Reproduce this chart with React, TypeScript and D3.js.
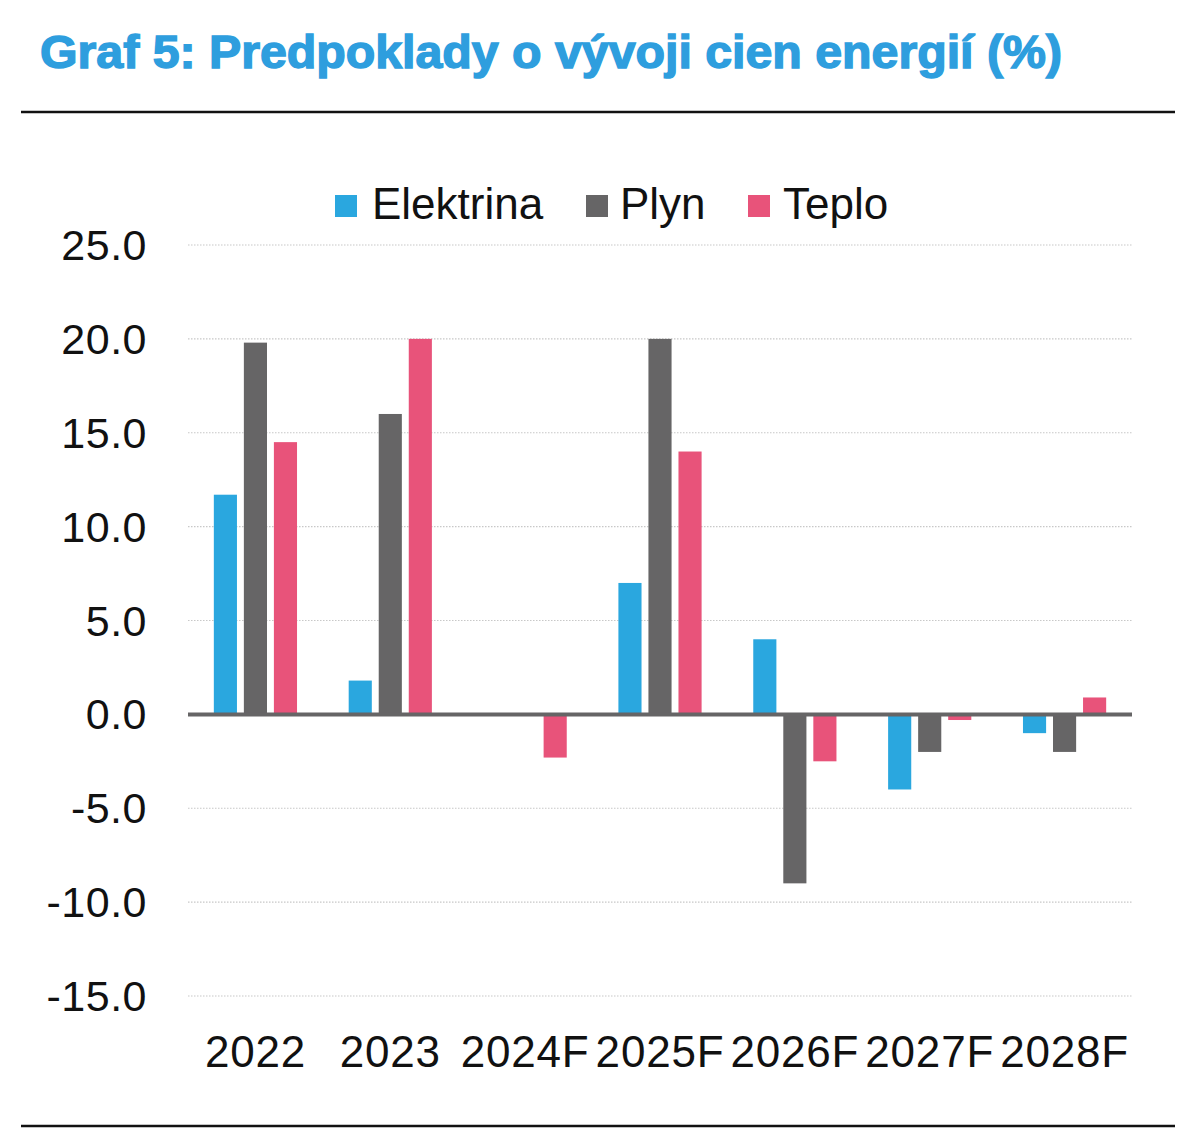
import React from "react";
import * as d3 from "d3";

const categories = ["2022", "2023", "2024F", "2025F", "2026F", "2027F", "2028F"];
const seriesNames = ["Elektrina", "Plyn", "Teplo"];
const elektrina = [11.7, 1.8, 0, 7.0, 4.0, -4.0, -1.0];
const plyn = [19.8, 16.0, 0, 20.0, -9.0, -2.0, -2.0];
const teplo = [14.5, 20.0, -2.3, 14.0, -2.5, -0.3, 0.9];
const yTicks = [25, 20, 15, 10, 5, 0, -5, -10, -15];
const colors = ["#2aa7df", "#666566", "#e8537a"];

const W = 1200;
const H = 1141;

export default function App() {
  const values = [elektrina, plyn, teplo];
  const x = d3.scaleBand<string>().domain(categories).range([188, 1132]).padding(0);
  const xs = d3
    .scaleBand<string>()
    .domain(seriesNames)
    .range([0, x.bandwidth()])
    .paddingInner(0.23)
    .paddingOuter(0.86);
  const y = d3.scaleLinear().domain([-15, 25]).range([996, 245]);
  const fmt = (t: number) => d3.format(".1f")(t).replace("\u2212", "-");

  const legendItems = [
    { sx: 335, tx: 372 },
    { sx: 586, tx: 620 },
    { sx: 748, tx: 783 },
  ];

  return (
    <svg
      width={W}
      height={H}
      style={{ position: "absolute", left: 0, top: 0, background: "#fff" }}
      fontFamily="'Liberation Sans', Arial, sans-serif"
    >
      <rect x={0} y={0} width={W} height={H} fill="#fff" />
      <text
        x={40}
        y={68}
        fill="#2e9ede"
        stroke="#2e9ede"
        strokeWidth={1.4}
        fontSize={46}
        fontWeight="bold"
        textLength={1022}
        lengthAdjust="spacingAndGlyphs"
      >
        Graf 5: Predpoklady o vývoji cien energií (%)
      </text>
      <line x1={21} x2={1175} y1={112} y2={112} stroke="#111" strokeWidth={2.5} />
      <line x1={21} x2={1175} y1={1126} y2={1126} stroke="#111" strokeWidth={2.5} />

      {seriesNames.map((s, i) => (
        <g key={s}>
          <rect x={legendItems[i].sx} y={195} width={22} height={22} fill={colors[i]} />
          <text x={legendItems[i].tx} y={219} fontSize={44} fill="#111">
            {s}
          </text>
        </g>
      ))}

      {yTicks
        .filter((t) => t !== 0)
        .map((t) => (
          <line
            key={"g" + t}
            x1={188}
            x2={1132}
            y1={y(t)}
            y2={y(t)}
            stroke="#c8c8c8"
            strokeWidth={1.2}
            strokeDasharray="1.5,1.5"
          />
        ))}

      {yTicks.map((t) => (
        <text
          key={"t" + t}
          x={147}
          y={y(t) + 15}
          textAnchor="end"
          fontSize={43}
          fill="#111"
          letterSpacing={0.5}
        >
          {fmt(t)}
        </text>
      ))}

      {categories.map((c, ci) =>
        seriesNames.map((s, si) => {
          const v = values[si][ci];
          if (v === 0) return null;
          const y0 = y(0);
          const y1 = y(v);
          return (
            <rect
              key={c + s}
              x={(x(c) as number) + (xs(s) as number)}
              y={Math.min(y0, y1)}
              width={xs.bandwidth()}
              height={Math.abs(y1 - y0)}
              fill={colors[si]}
            />
          );
        })
      )}

      <line x1={188} x2={1132} y1={y(0)} y2={y(0)} stroke="#666566" strokeWidth={4} />

      {categories.map((c) => (
        <text
          key={"x" + c}
          x={(x(c) as number) + x.bandwidth() / 2}
          y={1067}
          textAnchor="middle"
          fontSize={44}
          fill="#111"
          letterSpacing={0.8}
        >
          {c}
        </text>
      ))}
    </svg>
  );
}
